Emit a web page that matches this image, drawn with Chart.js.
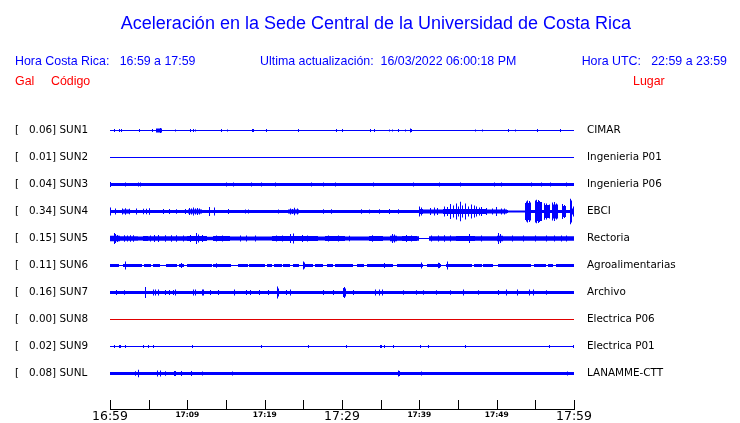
<!DOCTYPE html>
<html>
<head>
<meta charset="utf-8">
<script src="https://cdn.jsdelivr.net/npm/chart.js@4"></script>
<style>
  body { margin: 0; background: #fff; }
  #wrap { position: relative; width: 740px; height: 423px; overflow: hidden; }
  #wrap canvas { position: absolute; left: 0; top: 0; }
  .txt { position: absolute; font-family: "Liberation Sans", Arial, sans-serif; white-space: pre; }
  .title { font-size: 18px; line-height: 18px; color: #0000ff; left: 0; width: 752px; text-align: center; top: 14px; }
  .head { font-size: 12.4px; line-height: 12px; color: #0000ff; top: 55px; }
  .red { font-size: 12.4px; line-height: 12px; color: #ff0000; top: 75px; }
</style>
</head>
<body>
<div id="wrap">
  <canvas id="chart" width="740" height="423"></canvas>
  <div class="txt title">Aceleración en la Sede Central de la Universidad de Costa Rica</div>
  <div class="txt head" style="left:15px">Hora Costa Rica:   16:59 a 17:59</div>
  <div class="txt head" style="left:260px">Ultima actualización:  16/03/2022 06:00:18 PM</div>
  <div class="txt head" style="right:13px">Hora UTC:   22:59 a 23:59</div>
  <div class="txt red" style="left:15px">Gal</div>
  <div class="txt red" style="left:51px">Código</div>
  <div class="txt red" style="left:633px">Lugar</div>
</div>
<script>
// estaciones y valores pico (gal)
const stations = ['SUN1', 'SUN2', 'SUN3', 'SUN4', 'SUN5', 'SUN6', 'SUN7', 'SUN8', 'SUN9', 'SUNL'];
const peaks = [0.06, 0.01, 0.04, 0.34, 0.15, 0.11, 0.16, 0.00, 0.02, 0.08];
const places = ['CIMAR', 'Ingenieria P01', 'Ingenieria P06', 'EBCI', 'Rectoria',
                'Agroalimentarias', 'Archivo', 'Electrica P06', 'Electrica P01', 'LANAMME-CTT'];
const traceColors = ['#0000ff', '#0000ff', '#0000ff', '#0000ff', '#0000ff',
                     '#0000ff', '#0000ff', '#e00000', '#0000ff', '#0000ff'];

// eje de tiempo (minutos desde 16:59)
const tickMinutes = [0, 10, 20, 30, 40, 50, 60];
const tickLabels = ['16:59', '17:09', '17:19', '17:29', '17:39', '17:49', '17:59'];
const bigTicks = ['16:59', '17:29', '17:59'];

// envolventes: niveles [desde, hasta, semi-amplitud] y picos [minuto, semi-amplitud]
// (amplitud relativa, 27 = separacion entre trazas)
const sun1Levels = [[0, 60, 0.5], [5.9, 6.7, 2], [18.4, 18.6, 1.5], [24.3, 24.5, 1.5], [38.8, 39.0, 1.5]];
const sun1Spikes = [[0.56, 1.5], [1.25, 1.5], [1.51, 1.5], [3.75, 1.5], [5.52, 1.5], [6.5, 2.5], [8.45, 1],
  [10.43, 1.5], [10.78, 1.5], [11.08, 1], [14.44, 1.5], [15.17, 1], [18.45, 1.5], [20.22, 1.5], [24.35, 1.5],
  [29.27, 1.5], [30.04, 1.5], [33.71, 1.5], [34.18, 1.5], [36.2, 1], [36.5, 1], [37.37, 1.5], [38.19, 1],
  [38.88, 2], [47.24, 1], [48.15, 1], [51.51, 1.5], [52.42, 1], [55.26, 1.5], [58.24, 1.5]];

const sun2Levels = [[0, 60, 0.5]];
const sun2Spikes = [];

const sun3Levels = [[0, 60, 1.5]];
const sun3Spikes = [[0.05, 2.5], [2.03, 2], [3.7, 2], [3.88, 2], [15.09, 2], [15.95, 2], [18.32, 2], [19.61, 2],
  [21.34, 2], [26.08, 2], [27.59, 2], [29.1, 2], [34.05, 2], [39.22, 2], [42.67, 2], [45.26, 2], [49.78, 2],
  [50.65, 2], [54.53, 2], [55.82, 2], [56.9, 2], [59.05, 2]];

const sun4Levels = [[0, 60, 1.5], [1.5, 2.6, 2], [10.1, 11.9, 2], [23.0, 24.4, 2], [39.9, 40.5, 2.5],
  [40.5, 43.0, 2], [43.0, 48.7, 2.5], [48.7, 51.4, 2], [51.5, 53.65, 1], [53.7, 54.5, 8.5],
  [54.9, 55.8, 9.5], [56.1, 56.9, 6.5], [57.1, 57.9, 7], [58.4, 59.0, 5.5], [59.45, 59.8, 9], [59.8, 60, 3]];
const sun4Spikes = [[0.09, 4], [0.65, 3], [1.6, 3], [2.0, 3.2], [2.5, 2.8], [3.45, 3], [4.31, 2.7], [4.74, 2.7],
  [5.17, 3.3], [6.9, 2.5], [7.63, 2.5], [8.62, 2.3], [9.7, 2.5], [10.3, 3.5], [10.5, 3], [10.8, 4], [11.0, 3],
  [11.3, 3.5], [11.6, 3], [12.85, 4.5], [13.5, 4], [15.3, 2.5], [17.46, 2], [17.89, 2], [21.77, 2], [23.3, 3],
  [23.6, 2.5], [23.92, 3.8], [24.2, 3], [27.59, 2.3], [28.66, 2.3], [32.54, 2.2], [33.62, 2], [34.91, 2.3],
  [36.2, 2.5], [37.28, 2.2],
  [40.0, 5], [40.3, 4], [41.5, 3.5], [42.0, 4], [42.4, 3.5], [43.2, 5], [43.6, 4.5], [44.0, 7.5], [44.4, 6],
  [44.8, 8], [45.0, 5], [45.35, 9.7], [45.6, 6], [46.0, 8], [46.3, 5], [46.7, 7], [47.1, 6], [47.4, 5],
  [47.8, 4], [48.06, 4.5], [48.7, 3.5], [49.4, 3], [50.0, 4.5], [50.6, 3], [51.0, 3],
  [53.8, 10], [54.0, 11], [54.2, 10.5], [54.4, 9], [55.0, 11], [55.2, 11.7], [55.4, 11.5], [55.6, 10.5],
  [56.2, 8.3], [56.5, 8], [56.8, 7], [57.2, 9], [57.5, 9.5], [57.8, 8], [58.5, 7.5], [58.8, 6.5],
  [59.55, 12.7], [59.7, 11], [59.95, 5]];

const sun5Levels = [[0, 60, 2.3], [0, 1.29, 2.8], [3.66, 4.31, 2.0], [4.31, 4.96, 2.6], [9.91, 12.5, 2.6],
  [12.5, 13.36, 1.8], [13.36, 15.52, 2.5], [15.52, 20.9, 2.0], [20.9, 26.9, 2.5], [26.9, 27.8, 2.0],
  [27.8, 30.4, 2.5], [30.4, 33.5, 2.0], [33.5, 35.3, 2.5], [35.3, 36.2, 2.0], [36.2, 37.06, 2.8],
  [37.7, 39.7, 2.5], [39.9, 41.2, 0.6], [44.8, 47.2, 2.5], [50.0, 50.8, 2.8]];
const sun5Spikes = [[0.52, 5.5], [0.65, 4.5], [1.0, 3.5], [1.9, 3.2], [2.2, 3], [2.6, 3.2], [3.1, 3.2],
  [5.2, 3], [5.8, 3.5], [6.25, 3.5], [7.24, 3.2], [7.97, 3.2], [8.62, 3.2], [9.5, 3], [10.4, 3.5], [11.2, 5.5],
  [11.5, 4], [12.0, 3.5], [13.8, 3], [14.5, 3], [16.9, 3], [17.7, 3], [18.8, 3], [21.5, 3], [22.3, 3],
  [23.4, 4.5], [23.7, 5], [24.9, 3.5], [25.6, 3], [28.3, 3], [29.5, 3], [31.0, 2.8], [34.0, 3.2], [36.5, 4.5],
  [36.8, 4], [38.4, 3.5], [39.0, 3], [41.6, 3], [42.5, 3], [43.3, 3.3], [44.0, 3], [46.5, 4.5], [48.0, 3],
  [50.3, 5.5], [50.5, 4.5], [52.0, 3], [53.5, 3], [55.0, 3], [56.5, 3], [57.5, 3], [58.4, 3], [59.0, 3]];

const sun6Levels = [[0, 60, 1.5], [1.16, 1.72, 0.5], [4.1, 4.4, 0.5], [5.3, 5.5, 0.5], [6.5, 7.3, 0.5],
  [8.6, 8.9, 0.5], [9.6, 9.9, 0.5], [13.15, 13.36, 0.5], [15.7, 16.6, 0.5], [17.8, 18.0, 0.5], [20.0, 20.35, 0.5],
  [20.9, 21.2, 0.5], [22.2, 22.4, 0.5], [23.3, 23.7, 0.5], [24.4, 24.9, 0.5], [26.3, 26.5, 0.5], [27.6, 28.0, 0.5],
  [28.9, 29.1, 0.5], [31.47, 31.99, 0.5], [32.84, 33.19, 0.5], [36.55, 37.15, 0.5], [40.52, 41.03, 0.5],
  [42.8, 43.45, 0.5], [46.77, 47.07, 0.5], [48.06, 48.28, 0.5], [49.48, 50.22, 0.5], [54.4, 54.87, 0.5],
  [56.38, 56.6, 0.5], [57.33, 57.67, 0.5]];
const sun6Spikes = [[1.94, 4], [9.27, 2.5], [13.8, 2.2], [25.0, 4], [25.1, 3], [35.56, 2.5], [40.22, 3],
  [42.45, 2.7], [42.55, 2.5], [43.6, 4]];

const sun7Levels = [[0, 60, 1.5]];
const sun7Spikes = [[0.86, 2.5], [1.85, 2.2], [4.53, 5.5], [4.6, 4], [5.6, 3], [5.82, 3], [6.25, 3], [7.24, 2.5],
  [7.67, 2.5], [8.19, 2.5], [8.53, 3], [10.78, 3], [11.08, 3], [11.9, 3], [12.1, 3], [13.06, 2.5], [14.0, 2.5],
  [16.16, 3], [17.67, 2.5], [18.19, 2.5], [19.27, 2.5], [20.47, 2.5], [21.6, 5], [21.68, 6], [21.8, 4],
  [22.84, 2.5], [23.36, 3], [27.59, 2.5], [28.88, 2.5], [30.2, 4.5], [30.3, 5.5], [30.45, 4], [31.47, 2.5],
  [34.27, 3], [34.9, 3], [35.3, 3], [37.93, 2.2], [39.67, 2.2], [40.5, 2.2], [42.24, 2.2], [43.97, 2.2],
  [45.7, 3], [47.63, 2.2], [50.22, 2.5], [51.29, 3], [52.72, 3], [54.31, 3], [54.74, 3], [56.47, 2.2]];

const sun8Levels = [[0, 60, 0.5]];
const sun8Spikes = [];

const sun9Levels = [[0, 60, 0.5]];
const sun9Spikes = [[0.56, 1.5], [1.29, 1.5], [1.4, 1.5], [2.03, 1.5], [4.31, 1.5], [4.96, 1.5], [5.65, 1.5],
  [10.65, 1.5], [19.61, 1.5], [25.65, 1.5], [30.6, 1.5], [35.0, 1.5], [35.1, 1.5], [35.5, 1.5], [36.64, 1.5],
  [40.09, 1.5], [41.16, 1.5], [45.99, 1.5], [56.81, 1.5], [59.9, 1.5]];

const sunlLevels = [[0, 60, 1.5]];
const sunlSpikes = [[3.32, 2.2], [3.66, 3.7], [6.12, 3], [6.47, 3], [7.24, 2.2], [8.3, 2.5], [8.5, 2.5],
  [9.27, 2.5], [10.56, 2.5], [11.94, 2], [15.86, 2], [37.37, 3], [37.45, 2.5], [40.3, 2], [59.14, 2]];

const traces = [
  [sun1Levels, sun1Spikes], [sun2Levels, sun2Spikes], [sun3Levels, sun3Spikes], [sun4Levels, sun4Spikes],
  [sun5Levels, sun5Spikes], [sun6Levels, sun6Spikes], [sun7Levels, sun7Spikes], [sun8Levels, sun8Spikes],
  [sun9Levels, sun9Spikes], [sunlLevels, sunlSpikes]
];

const SPAN = 60;      // minutos
const BINS = 464;     // una columna por pixel
const ROW_AMP = 27;   // amplitud que corresponde a una fila

function envelope(levels, spikes) {
  const out = [];
  for (let k = 0; k < BINS; k++) {
    const t0 = k * SPAN / BINS, t1 = (k + 1) * SPAN / BINS, tc = (t0 + t1) / 2;
    let a = 0;
    levels.forEach(([s, e, v]) => { if (tc >= s && tc < e) a = v; });
    spikes.forEach(([m, v]) => { if (m >= t0 && m < t1) a = Math.max(a, v); });
    out.push(a);
  }
  return out;
}

const datasets = traces.map(([lv, sp], i) => ({
  data: envelope(lv, sp).map((a, k) => ({
    x: (k + 0.5) * SPAN / BINS,
    y: [i - a / ROW_AMP, i + a / ROW_AMP]
  })),
  backgroundColor: traceColors[i],
  borderWidth: 0,
  inflateAmount: 0,
  grouped: false,
  barPercentage: 1,
  categoryPercentage: 1
}));

// marcas del eje hacia arriba
const upTicks = {
  id: 'upTicks',
  afterDraw(chart) {
    const s = chart.scales.x, ctx = chart.ctx;
    ctx.save();
    ctx.strokeStyle = '#000';
    ctx.lineWidth = 1;
    s.ticks.forEach(t => {
      const px = Math.round(s.getPixelForValue(t.value)) + 0.5;
      ctx.beginPath();
      ctx.moveTo(px, s.top - 9);
      ctx.lineTo(px, s.top + 1);
      ctx.stroke();
    });
    ctx.restore();
  }
};

const yMin = -0.5, yMax = -0.5 + 292 / 27;
const labelFont = { family: 'DejaVu Sans', size: 10.4 };
const noPad = s => { s.paddingTop = 0; s.paddingBottom = 0; };

new Chart(document.getElementById('chart'), {
  type: 'bar',
  data: { datasets },
  plugins: [upTicks],
  options: {
    responsive: false,
    devicePixelRatio: 1,
    animation: false,
    events: [],
    layout: { padding: { left: 15, right: 0, top: 117, bottom: 0 } },
    plugins: { legend: { display: false }, tooltip: { enabled: false } },
    scales: {
      x: {
        type: 'linear',
        min: 0, max: SPAN,
        offset: false,
        grid: { display: false, drawTicks: false },
        border: { display: true, color: '#000', width: 1 },
        ticks: {
          stepSize: 5,
          autoSkip: false,
          maxRotation: 0,
          padding: 0,
          color: '#000',
          callback: v => {
            const i = tickMinutes.indexOf(v);
            return i < 0 ? '' : tickLabels[i];
          },
          font: ctx => {
            const i = tickMinutes.indexOf(ctx.tick && ctx.tick.value);
            const big = i >= 0 && bigTicks.includes(tickLabels[i]);
            return big
              ? { family: 'DejaVu Sans', size: 12.5, lineHeight: 1.2 }
              : { family: 'DejaVu Sans', size: 7.5, weight: 'bold', lineHeight: 1.6 };
          }
        },
        afterFit: s => { s.height = 14; }
      },
      y: {
        min: yMin, max: yMax, reverse: true,
        grid: { display: false, drawTicks: false },
        border: { display: false },
        afterBuildTicks: s => { s.ticks = stations.map((_, i) => ({ value: i })); },
        ticks: {
          autoSkip: false,
          crossAlign: 'far',
          padding: 0,
          color: '#000',
          font: labelFont,
          callback: v => '[   ' + peaks[v].toFixed(2) + '] ' + stations[v]
        },
        afterFit: s => { s.width = 95; noPad(s); }
      },
      y2: {
        position: 'right',
        min: yMin, max: yMax, reverse: true,
        grid: { display: false, drawTicks: false },
        border: { display: false },
        afterBuildTicks: s => { s.ticks = places.map((_, i) => ({ value: i })); },
        ticks: {
          autoSkip: false,
          crossAlign: 'near',
          padding: 13,
          color: '#000',
          font: labelFont,
          callback: v => places[v]
        },
        afterFit: s => { s.width = 166; noPad(s); }
      }
    }
  }
});
</script>
</body>
</html>
